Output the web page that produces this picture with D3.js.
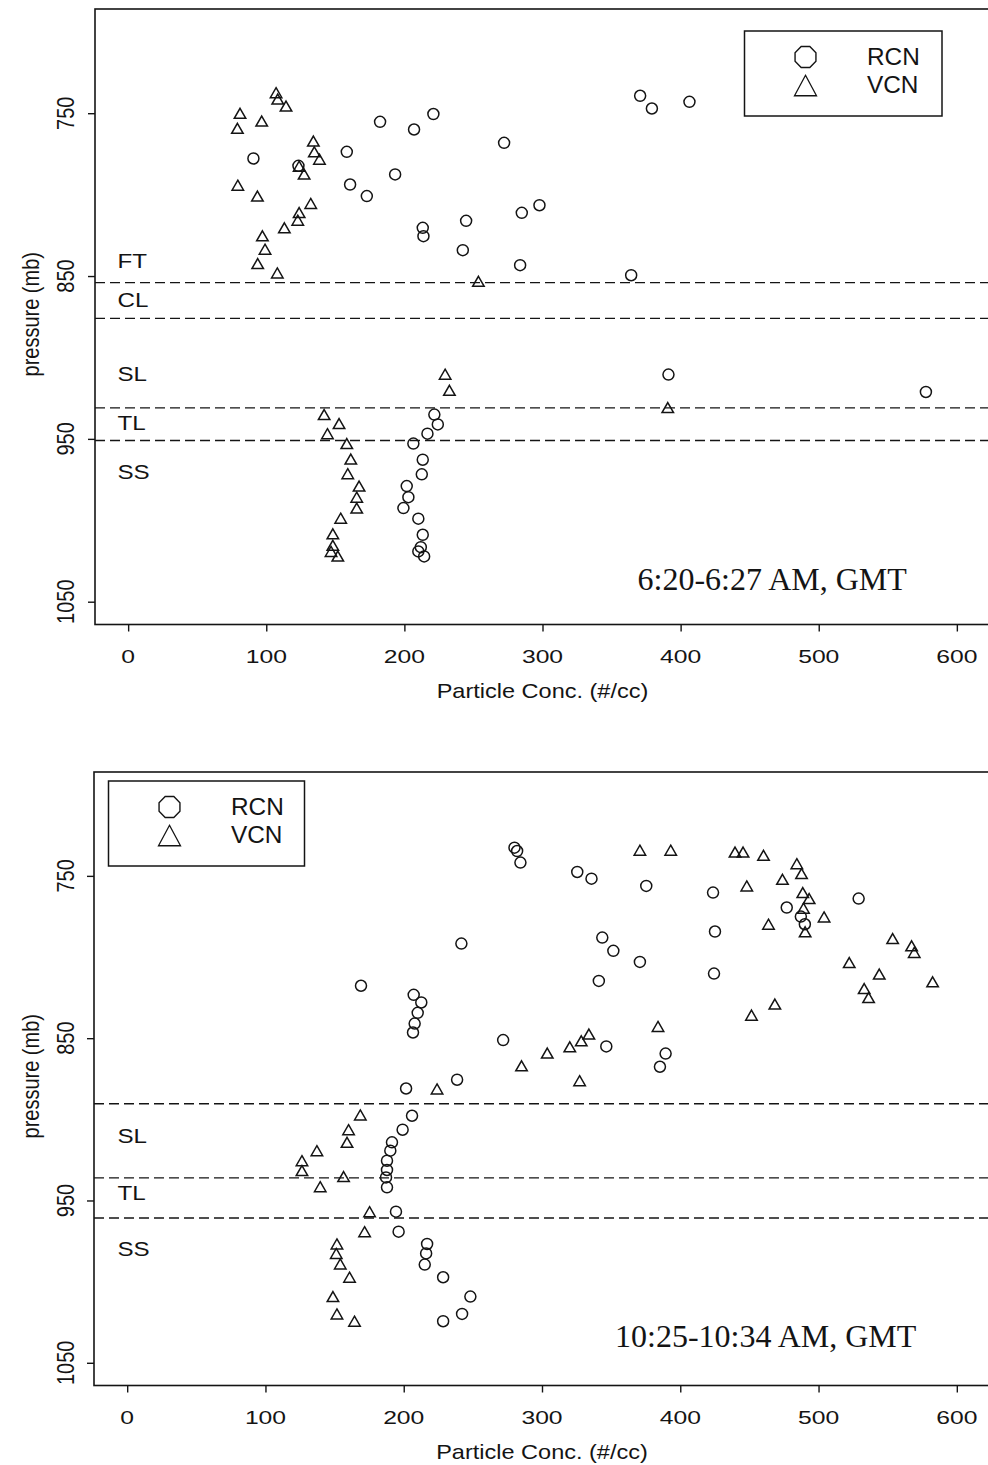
<!DOCTYPE html>
<html>
<head>
<meta charset="utf-8">
<script src="https://cdn.jsdelivr.net/npm/d3@7"></script>
<style>
  body { margin: 0; background: #fff; }
  svg { display: block; }
</style>
</head>
<body>
<svg id="fig" width="988" height="1465"></svg>
<script>
// ---- Axis settings -------------------------------------------------------
const concDomain = [-24, 624];          // Particle Conc. (#/cc)
const presDomain = [686, 1064];         // pressure (mb), increasing downward
const concTicks = [0, 100, 200, 300, 400, 500, 600];
const presTicks = [750, 850, 950, 1050];

// ---- Morning profile (6:20-6:27 AM, GMT): [conc, pressure] ---------------
const morningRcn = [
  [90.7, 777.8], [123.3, 782.3], [158.3, 773.7], [182.4, 755.3], [207.0, 760.0],
  [221.0, 750.5], [160.7, 793.8], [172.8, 800.9], [193.3, 787.6], [213.3, 820.4],
  [213.8, 825.5], [244.7, 816.1], [242.3, 834.1], [272.2, 768.2], [370.7, 739.3],
  [379.2, 747.1], [406.4, 743.0], [285.0, 811.2], [297.8, 806.5], [283.8, 843.3],
  [364.2, 849.5],
  [391.2, 910.5], [577.6, 921.2],
  [221.7, 935.1], [224.2, 941.1], [216.7, 946.8], [206.5, 952.9], [213.3, 962.8],
  [212.6, 971.8], [201.7, 979.0], [202.9, 985.8], [199.3, 992.5], [210.1, 999.0],
  [213.3, 1008.9], [211.9, 1016.5], [210.1, 1019.1], [214.3, 1022.2]
];
const morningVcn = [
  [107.1, 737.4], [108.3, 741.3], [114.3, 745.6], [81.0, 750.1], [79.1, 759.3],
  [96.7, 754.8], [134.1, 767.1], [134.8, 773.7], [138.5, 778.2], [123.8, 782.5],
  [127.4, 787.4], [79.4, 794.2], [93.6, 800.9], [132.2, 805.4], [123.8, 811.0],
  [122.8, 815.7], [113.1, 820.4], [97.2, 825.3], [99.1, 833.5], [93.8, 842.3],
  [108.0, 848.1], [253.6, 853.2],
  [229.5, 910.3], [232.6, 920.2], [390.7, 930.8],
  [141.9, 935.1], [152.7, 940.6], [144.3, 946.8], [158.3, 952.9], [161.2, 962.4],
  [159.0, 971.4], [167.2, 979.0], [165.5, 985.8], [165.5, 992.5], [153.9, 998.7],
  [148.2, 1008.3], [148.2, 1015.4], [146.9, 1019.1], [151.8, 1022.0]
];
const morningLayerTops = [854, 876, 931, 951];
const morningLayerNames = ["FT", "CL", "SL", "TL", "SS"];
const morningLayerLabelPres = [845, 869.3, 914.6, 944.8, 974.4];

// ---- Late-morning profile (10:25-10:34 AM, GMT): [conc, pressure] --------
const lateRcn = [
  [280.1, 732.6], [282.0, 734.7], [284.4, 741.8], [325.5, 747.6], [335.8, 751.7],
  [375.4, 756.2], [423.7, 760.3], [425.1, 784.3], [424.4, 810.2], [477.0, 769.5],
  [487.2, 775.1], [490.1, 779.8], [529.0, 764.0], [343.6, 788.0], [351.6, 796.2],
  [370.8, 803.0], [341.1, 814.7], [271.9, 851.2], [346.5, 855.1], [389.4, 859.5],
  [385.3, 867.6],
  [169.1, 817.7], [241.7, 791.7], [207.2, 823.3], [212.7, 828.0], [210.1, 834.4],
  [207.9, 841.0], [206.7, 846.5], [201.7, 881.0], [238.6, 875.6],
  [206.0, 897.8], [199.2, 906.4], [191.5, 914.2], [190.3, 919.3], [187.9, 925.5],
  [187.9, 931.2], [187.2, 935.8], [187.9, 941.9], [194.4, 956.9], [196.3, 969.2],
  [216.9, 976.8], [216.2, 982.6], [215.2, 989.5], [228.5, 997.3], [248.2, 1009.2],
  [242.2, 1019.9], [228.5, 1024.4]
];
const lateVcn = [
  [370.8, 734.2], [393.1, 734.2], [439.6, 735.3], [445.4, 735.3], [460.2, 737.3],
  [484.3, 742.5], [487.7, 748.6], [473.9, 752.1], [448.1, 756.2], [488.6, 760.3],
  [493.2, 764.0], [489.1, 769.9], [504.0, 775.3], [463.8, 779.8], [490.3, 784.5],
  [553.6, 788.6], [567.3, 793.1], [569.2, 797.2], [522.2, 803.4], [543.9, 810.5],
  [582.5, 815.3], [533.0, 819.4], [536.2, 825.0], [468.4, 829.0], [451.5, 835.8],
  [383.9, 842.8], [333.9, 847.5], [328.4, 851.6], [320.1, 855.3], [303.8, 859.2],
  [285.2, 867.0], [327.2, 876.2], [224.1, 881.3],
  [168.6, 897.3], [160.1, 906.4], [159.0, 914.2], [137.2, 919.3], [126.4, 925.5],
  [126.4, 931.6], [156.5, 935.3], [139.6, 941.5], [175.3, 956.9], [171.7, 969.2],
  [151.7, 976.8], [151.2, 982.6], [154.1, 989.1], [160.8, 997.3], [148.8, 1009.2],
  [151.7, 1019.9], [164.4, 1024.4]
];
const lateLayerTops = [890.4, 936.1, 960.8];
const lateLayerNames = ["SL", "TL", "SS"];
const lateLayerLabelPres = [914.8, 949.7, 984.4];

const seriesNames = ["RCN", "VCN"];

// ---- Helpers ---------------------------------------------------------------
const INK = "#141414";
const SANS = "'Liberation Sans', Arial, Helvetica, sans-serif";
const SERIF = "'Liberation Serif', 'Times New Roman', serif";

function octagon(r) {
  const pts = d3.range(8).map(k => {
    const a = Math.PI / 8 + k * Math.PI / 4;
    return [r * Math.cos(a), r * Math.sin(a)];
  });
  return d3.line()(pts) + "Z";
}
function triangle(w, h) {
  return `M0,${-h / 2}L${w / 2},${h / 2}L${-w / 2},${h / 2}Z`;
}

const svg = d3.select("#fig");

function drawPanel(p) {
  const g = svg.append("g");
  const x = d3.scaleLinear().domain(concDomain).range([p.left, p.right]);
  const y = d3.scaleLinear().domain(presDomain).range([p.top, p.bottom]);

  // frame
  g.append("rect")
    .attr("x", p.left).attr("y", p.top)
    .attr("width", p.right - p.left).attr("height", p.bottom - p.top)
    .attr("fill", "none").attr("stroke", INK).attr("stroke-width", 1.6);

  // tick marks
  g.append("g").attr("transform", `translate(0,${p.bottom})`)
    .call(d3.axisBottom(x).tickValues(concTicks).tickSize(7).tickFormat(""))
    .call(a => a.select(".domain").remove())
    .selectAll("line").attr("stroke", INK).attr("stroke-width", 1.4);
  g.append("g").attr("transform", `translate(${p.left},0)`)
    .call(d3.axisLeft(y).tickValues(presTicks).tickSize(7).tickFormat(""))
    .call(a => a.select(".domain").remove())
    .selectAll("line").attr("stroke", INK).attr("stroke-width", 1.4);

  // tick labels
  g.selectAll(".xlab").data(concTicks).join("text")
    .attr("transform", d => `translate(${x(d)},${p.bottom + 38.5}) scale(1.3,1)`)
    .attr("text-anchor", "middle").attr("fill", INK)
    .style("font", `19px ${SANS}`).text(d => d);
  g.selectAll(".ylab").data(presTicks).join("text")
    .attr("transform", d => `translate(73.5,${y(d)}) scale(1.2,1) rotate(-90)`)
    .attr("text-anchor", "middle").attr("fill", INK)
    .style("font", `20px ${SANS}`).text(d => d);

  // axis titles
  g.append("text")
    .attr("transform", `translate(${(p.left + p.right) / 2},${p.bottom + 73.5}) scale(1.12,1)`)
    .attr("text-anchor", "middle").attr("fill", INK)
    .style("font", `21px ${SANS}`).text("Particle Conc. (#/cc)");
  g.append("text")
    .attr("transform", `translate(38.5,${(p.top + p.bottom) / 2 - 2.5}) scale(1.2,1) rotate(-90)`)
    .attr("text-anchor", "middle").attr("fill", INK)
    .style("font", `20px ${SANS}`).text("pressure (mb)");

  // layer boundaries
  g.selectAll(".layer").data(p.layerTops).join("line")
    .attr("x1", p.left).attr("x2", p.right)
    .attr("y1", d => y(d)).attr("y2", d => y(d))
    .attr("stroke", INK).attr("stroke-width", 1.3)
    .attr("stroke-dasharray", "10,5");

  // layer names
  g.selectAll(".lname").data(p.layerNames).join("text")
    .attr("transform", (d, i) => `translate(117.5,${y(p.layerLabelPres[i])}) scale(1.15,1)`)
    .attr("fill", INK).style("font", `21px ${SANS}`).text(d => d);

  // markers
  g.selectAll(".rcn").data(p.rcn).join("circle")
    .attr("cx", d => x(d[0])).attr("cy", d => y(d[1])).attr("r", 5.5)
    .attr("fill", "none").attr("stroke", INK).attr("stroke-width", 1.5);
  g.selectAll(".vcn").data(p.vcn).join("path")
    .attr("transform", d => `translate(${x(d[0])},${y(d[1])})`)
    .attr("d", triangle(11.5, 10))
    .attr("fill", "none").attr("stroke", INK).attr("stroke-width", 1.5)
    .attr("stroke-linejoin", "miter");

  // legend
  const L = p.legend;
  g.append("rect").attr("x", L.x).attr("y", L.y).attr("width", L.w).attr("height", L.h)
    .attr("fill", "#fff").attr("stroke", INK).attr("stroke-width", 1.5);
  g.append("path").attr("transform", `translate(${L.x + 61},${L.y + 26})`)
    .attr("d", octagon(11.3)).attr("fill", "none").attr("stroke", INK).attr("stroke-width", 1.4);
  g.append("path").attr("transform", `translate(${L.x + 61},${L.y + 54.5})`)
    .attr("d", triangle(22, 20.5)).attr("fill", "none").attr("stroke", INK).attr("stroke-width", 1.3);
  g.selectAll(".leg").data(seriesNames).join("text")
    .attr("transform", (d, i) => `translate(${L.x + 122.5},${L.y + 34 + i * 27.5}) scale(1.06,1)`)
    .attr("fill", INK).style("font", `23px ${SANS}`).text(d => d);

  // time stamp
  g.append("text").attr("x", p.stamp.x).attr("y", p.stamp.y)
    .attr("fill", INK).style("font", `32px ${SERIF}`).text(p.stamp.text);
}

drawPanel({
  left: 95, right: 990, top: 9, bottom: 624.5,
  rcn: morningRcn, vcn: morningVcn,
  layerTops: morningLayerTops, layerNames: morningLayerNames, layerLabelPres: morningLayerLabelPres,
  legend: { x: 744.5, y: 31, w: 197.5, h: 85 },
  stamp: { x: 637.5, y: 589.5, text: "6:20-6:27 AM, GMT" }
});

drawPanel({
  left: 94, right: 990, top: 772, bottom: 1385.5,
  rcn: lateRcn, vcn: lateVcn,
  layerTops: lateLayerTops, layerNames: lateLayerNames, layerLabelPres: lateLayerLabelPres,
  legend: { x: 108.5, y: 781, w: 196, h: 85 },
  stamp: { x: 615, y: 1346.5, text: "10:25-10:34 AM, GMT" }
});
</script>
</body>
</html>
